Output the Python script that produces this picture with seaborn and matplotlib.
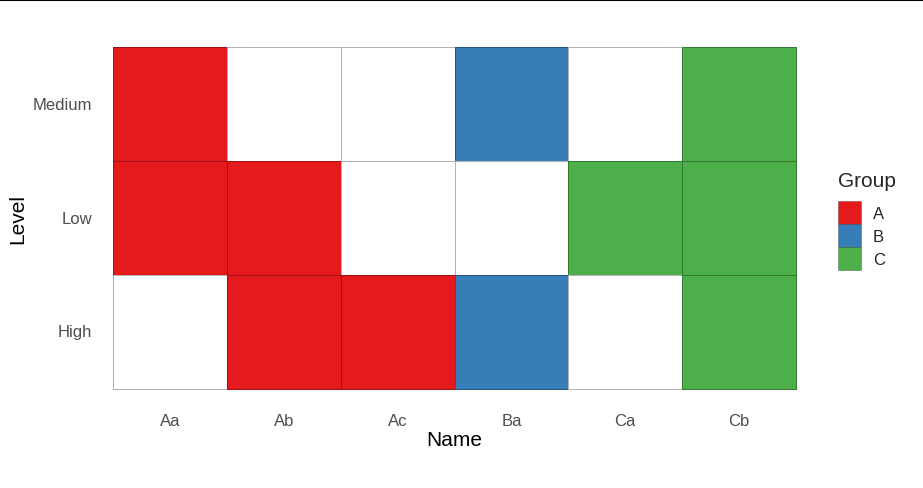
import matplotlib.pyplot as plt
import numpy as np
import pandas as pd
import seaborn as sns
from matplotlib.colors import ListedColormap
from matplotlib.patches import Patch
from matplotlib.lines import Line2D


# =========================
# DATA
# =========================
names  = ["Aa", "Ab", "Ac", "Ba", "Ca", "Cb"]
levels = ["Medium", "Low", "High"]          # top to bottom
groups = ["A", "B", "C"]
group_colors = ["#E41A1C", "#377EB8", "#4DAF4A"]

obs_name  = ["Aa", "Aa", "Ab", "Ab", "Ac", "Ba", "Ba", "Ca", "Cb", "Cb", "Cb"]
obs_level = ["Medium", "Low", "Low", "High", "High", "Medium", "High", "Low", "Medium", "Low", "High"]
obs_group = ["A", "A", "A", "A", "A", "B", "B", "C", "C", "C", "C"]


# =========================
# BUILD MATRIX
# =========================
df = pd.DataFrame({"Name": obs_name, "Level": obs_level, "Group": obs_group})
df["code"] = df["Group"].map({g: i + 1 for i, g in enumerate(groups)})

mat = (df.pivot(index="Level", columns="Name", values="code")
         .reindex(index=levels, columns=names)
         .fillna(0))

cmap = ListedColormap(["#FFFFFF"] + group_colors)
edge = (0, 0, 0, 0.3)


# =========================
# PLOT
# =========================
sns.set_style("white")
plt.rcParams['font.family'] = ['Liberation Sans', 'DejaVu Sans']

fig = plt.figure(figsize=(9.23, 4.89), dpi=100)
ax = fig.add_axes([113 / 923, 99 / 489, 683 / 923, 342 / 489])

sns.heatmap(mat, ax=ax, cmap=cmap, vmin=-0.5, vmax=3.5, cbar=False,
            linewidths=0.6, linecolor=edge)
ax.collections[0].set_clip_on(False)

for s in ax.spines.values():
    s.set_visible(False)

ax.tick_params(axis="both", length=0, labelsize=12, colors="#4D4D4D")
ax.tick_params(axis="x", pad=17)
ax.tick_params(axis="y", pad=15)
plt.setp(ax.get_yticklabels(), rotation=0)
ax.set_xlabel("Name", fontsize=15, labelpad=2, color="black")
ax.set_ylabel("Level", fontsize=15, labelpad=4, color="black")

handles = [Patch(facecolor=c, edgecolor=edge, linewidth=0.6) for c in group_colors]
leg = fig.legend(handles, groups, title="Group", loc="upper left",
                 bbox_to_anchor=(838 / 923, 1 - 172 / 489), frameon=False,
                 fontsize=12, title_fontsize=15, handlelength=1.35, handleheight=1.75,
                 labelspacing=0.0, handletextpad=0.75, borderaxespad=0, borderpad=0)
leg._legend_box.align = "left"
leg._legend_box.sep = 8

fig.add_artist(Line2D([0, 1], [0.998, 0.998], transform=fig.transFigure,
                      color="black", linewidth=1.5))

plt.savefig("out.png", dpi=100)
plt.close()
